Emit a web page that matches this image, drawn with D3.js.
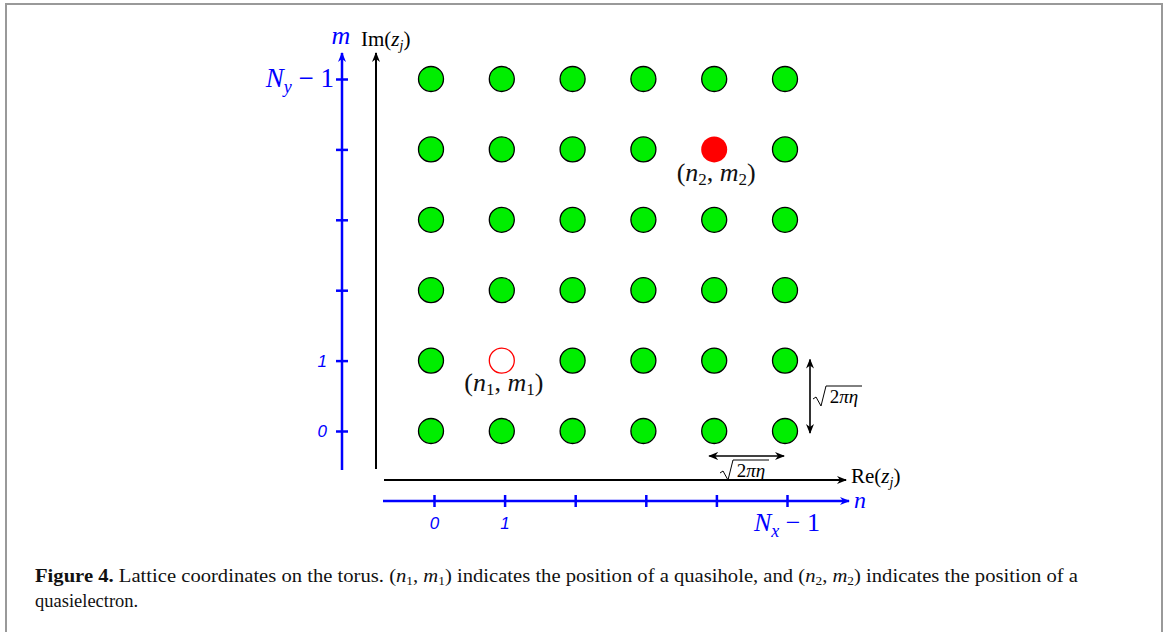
<!DOCTYPE html>
<html>
<head>
<meta charset="utf-8">
<script src="https://cdn.jsdelivr.net/npm/d3@7"></script>
<style>
  body { margin: 0; background: #fff; }
  svg { display: block; }
  .math { font-family: "Liberation Serif", "DejaVu Serif", serif; }
  .caption { font-family: "Liberation Serif", serif; font-size: 18.5px; fill: #111; }
</style>
</head>
<body>
<svg id="chart"></svg>
<script>
// lattice indices
const nValues = [0, 1, 2, 3, 4, 5];
const mValues = [0, 1, 2, 3, 4, 5];
const quasihole = { n: 1, m: 1, label: ["n", "1", "m", "1"] };
const quasielectron = { n: 4, m: 4, label: ["n", "2", "m", "2"] };
const nTickLabels = ["0", "1", "", "", "", ""];
const mTickLabels = ["0", "1", "", "", "", ""];

const width = 1165, height = 632;
const svg = d3.select("#chart").attr("width", width).attr("height", height);

// frame
svg.append("path")
  .attr("d", `M6,${height + 2} V4 H1162 V${height + 2}`)
  .attr("fill", "none").attr("stroke", "#999").attr("stroke-width", 2);

const x = d3.scaleLinear().domain([0, 5]).range([431, 785]);
const y = d3.scaleLinear().domain([0, 5]).range([431, 79]);

const defs = svg.append("defs");
function marker(id, color) {
  defs.append("marker")
    .attr("id", id).attr("viewBox", "0 0 10 10")
    .attr("refX", 9).attr("refY", 5)
    .attr("markerWidth", 10).attr("markerHeight", 10)
    .attr("markerUnits", "userSpaceOnUse")
    .attr("orient", "auto-start-reverse")
    .append("path").attr("d", "M0,1 L10,5 L0,9 L3,5 Z").attr("fill", color);
}
marker("ak", "#000");
marker("ab", "#00f");

const blue = "#0000ff";

// blue m axis
const mAxisX = 342;
svg.append("line")
  .attr("x1", mAxisX).attr("x2", mAxisX).attr("y1", 470).attr("y2", 53)
  .attr("stroke", blue).attr("stroke-width", 2.5).attr("marker-end", "url(#ab)");
const mAxis = d3.axisLeft(y).tickValues(mValues).tickSize(0).tickFormat("");
const gm = svg.append("g").attr("transform", `translate(${mAxisX},0)`).call(mAxis);
gm.select(".domain").remove();
gm.selectAll(".tick").append("line")
  .attr("x1", -6).attr("x2", 6).attr("stroke", blue).attr("stroke-width", 2.5);
gm.selectAll(".tick").append("text")
  .attr("x", -15).attr("dy", "0.35em").attr("text-anchor", "end")
  .attr("fill", blue).style("font", "italic 17px 'Liberation Sans', sans-serif")
  .text((d, i) => mTickLabels[i]);
const nyLab = svg.append("text").attr("class", "math")
  .attr("x", 334).attr("y", y(5) + 8).attr("text-anchor", "end")
  .attr("fill", blue).style("font-size", "27px");
nyLab.append("tspan").attr("font-style", "italic").text("N");
nyLab.append("tspan").attr("font-style", "italic").attr("font-size", "18px").attr("dy", 6).text("y");
nyLab.append("tspan").attr("dy", -6).text(" − 1");
svg.append("text").attr("class", "math")
  .attr("x", 341).attr("y", 44).attr("text-anchor", "middle")
  .attr("fill", blue).style("font-size", "26px").attr("font-style", "italic").text("m");

// black Im axis
svg.append("line")
  .attr("x1", 376).attr("x2", 376).attr("y1", 469).attr("y2", 53)
  .attr("stroke", "#000").attr("stroke-width", 2).attr("marker-end", "url(#ak)");
const imLab = svg.append("text").attr("class", "math")
  .attr("x", 361).attr("y", 46).style("font-size", "21px");
imLab.append("tspan").text("Im(");
imLab.append("tspan").attr("font-style", "italic").text("z");
imLab.append("tspan").attr("font-style", "italic").attr("font-size", "14px").attr("dy", 4).text("j");
imLab.append("tspan").attr("dy", -4).text(")");

// black Re axis
svg.append("line")
  .attr("x1", 384).attr("x2", 846).attr("y1", 480).attr("y2", 480)
  .attr("stroke", "#000").attr("stroke-width", 2).attr("marker-end", "url(#ak)");
const reLab = svg.append("text").attr("class", "math")
  .attr("x", 851).attr("y", 483).style("font-size", "21px");
reLab.append("tspan").text("Re(");
reLab.append("tspan").attr("font-style", "italic").text("z");
reLab.append("tspan").attr("font-style", "italic").attr("font-size", "14px").attr("dy", 4).text("j");
reLab.append("tspan").attr("dy", -4).text(")");

// blue n axis
const nAxisY = 501;
svg.append("line")
  .attr("x1", 383).attr("x2", 849).attr("y1", nAxisY).attr("y2", nAxisY)
  .attr("stroke", blue).attr("stroke-width", 2.5).attr("marker-end", "url(#ab)");
const xTick = d3.scaleLinear().domain([0, 5]).range([434, 787]);
const nAxis = d3.axisBottom(xTick).tickValues(nValues).tickSize(0).tickFormat("");
const gn = svg.append("g").attr("transform", `translate(0,${nAxisY})`).call(nAxis);
gn.select(".domain").remove();
gn.selectAll(".tick").append("line")
  .attr("y1", -6).attr("y2", 6).attr("stroke", blue).attr("stroke-width", 2.5);
gn.selectAll(".tick").append("text")
  .attr("y", 28).attr("text-anchor", "middle")
  .attr("fill", blue).style("font", "italic 17px 'Liberation Sans', sans-serif")
  .text((d, i) => nTickLabels[i]);
const nxLab = svg.append("text").attr("class", "math")
  .attr("x", xTick(5)).attr("y", 531).attr("text-anchor", "middle")
  .attr("fill", blue).style("font-size", "26px");
nxLab.append("tspan").attr("font-style", "italic").text("N");
nxLab.append("tspan").attr("font-style", "italic").attr("font-size", "18px").attr("dy", 6).text("x");
nxLab.append("tspan").attr("dy", -6).text(" − 1");
svg.append("text").attr("class", "math")
  .attr("x", 854).attr("y", 508)
  .attr("fill", blue).style("font-size", "24px").attr("font-style", "italic").text("n");

// lattice points
const points = [];
mValues.forEach(m => nValues.forEach(n => {
  const special = (n === quasihole.n && m === quasihole.m) ||
                  (n === quasielectron.n && m === quasielectron.m);
  if (!special) points.push({ n, m });
}));
svg.append("g").selectAll("circle")
  .data(points).join("circle")
  .attr("cx", d => x(d.n)).attr("cy", d => y(d.m)).attr("r", 12.5)
  .attr("fill", "#00ee00").attr("stroke", "#000").attr("stroke-width", 1.3);

// quasihole / quasielectron
svg.append("circle")
  .attr("cx", x(quasihole.n)).attr("cy", y(quasihole.m)).attr("r", 12.5)
  .attr("fill", "#fff").attr("stroke", "#f00").attr("stroke-width", 1.3);
svg.append("circle")
  .attr("cx", x(quasielectron.n)).attr("cy", y(quasielectron.m)).attr("r", 13)
  .attr("fill", "#f00");

function pairLabel(p, cy) {
  const t = svg.append("text").attr("class", "math")
    .attr("x", x(p.n) + 2).attr("y", cy).attr("text-anchor", "middle")
    .style("font-size", "26px").attr("fill", "#111");
  t.append("tspan").text("(");
  t.append("tspan").attr("font-style", "italic").text(p.label[0]);
  t.append("tspan").attr("font-size", "17px").attr("dy", 4).text(p.label[1]);
  t.append("tspan").attr("dy", -4).text(", ");
  t.append("tspan").attr("font-style", "italic").text(p.label[2]);
  t.append("tspan").attr("font-size", "17px").attr("dy", 4).text(p.label[3]);
  t.append("tspan").attr("dy", -4).text(")");
}
pairLabel(quasihole, y(quasihole.m) + 30);
pairLabel(quasielectron, y(quasielectron.m) + 32);

// spacing arrows
svg.append("line")
  .attr("x1", 810).attr("x2", 810).attr("y1", y(1) - 1).attr("y2", y(0) + 2)
  .attr("stroke", "#000").attr("stroke-width", 1.6)
  .attr("marker-start", "url(#ak)").attr("marker-end", "url(#ak)");
svg.append("line")
  .attr("x1", x(4) - 5).attr("x2", x(5) - 1).attr("y1", 456).attr("y2", 456)
  .attr("stroke", "#000").attr("stroke-width", 1.6)
  .attr("marker-start", "url(#ak)").attr("marker-end", "url(#ak)");

function sqrtLabel(cx, cy) {
  const g = svg.append("g").attr("transform", `translate(${cx},${cy})`);
  g.append("path").attr("d", "M-24,2 L-21,0 L-16,9 L-11,-11 L25,-11")
    .attr("fill", "none").attr("stroke", "#000").attr("stroke-width", 1);
  const t = g.append("text").attr("class", "math").attr("x", 7).attr("y", 6)
    .attr("text-anchor", "middle").style("font-size", "19px");
  t.append("tspan").text("2");
  t.append("tspan").attr("font-style", "italic").text("πη");
}
sqrtLabel(837, 397);
sqrtLabel(744, 471);

// caption
const cap = svg.append("text").attr("class", "caption").attr("x", 35).attr("y", 582)
  .attr("textLength", 1043).attr("lengthAdjust", "spacingAndGlyphs");
cap.append("tspan").attr("font-weight", "bold").text("Figure 4.");
cap.append("tspan").text(" Lattice coordinates on the torus. (");
cap.append("tspan").attr("font-style", "italic").text("n");
cap.append("tspan").attr("font-size", "12px").attr("dy", 3).text("1");
cap.append("tspan").attr("dy", -3).text(", ");
cap.append("tspan").attr("font-style", "italic").text("m");
cap.append("tspan").attr("font-size", "12px").attr("dy", 3).text("1");
cap.append("tspan").attr("dy", -3).text(") indicates the position of a quasihole, and (");
cap.append("tspan").attr("font-style", "italic").text("n");
cap.append("tspan").attr("font-size", "12px").attr("dy", 3).text("2");
cap.append("tspan").attr("dy", -3).text(", ");
cap.append("tspan").attr("font-style", "italic").text("m");
cap.append("tspan").attr("font-size", "12px").attr("dy", 3).text("2");
cap.append("tspan").attr("dy", -3).text(") indicates the position of a");
svg.append("text").attr("class", "caption").attr("x", 35).attr("y", 607).text("quasielectron.");
</script>
</body>
</html>
